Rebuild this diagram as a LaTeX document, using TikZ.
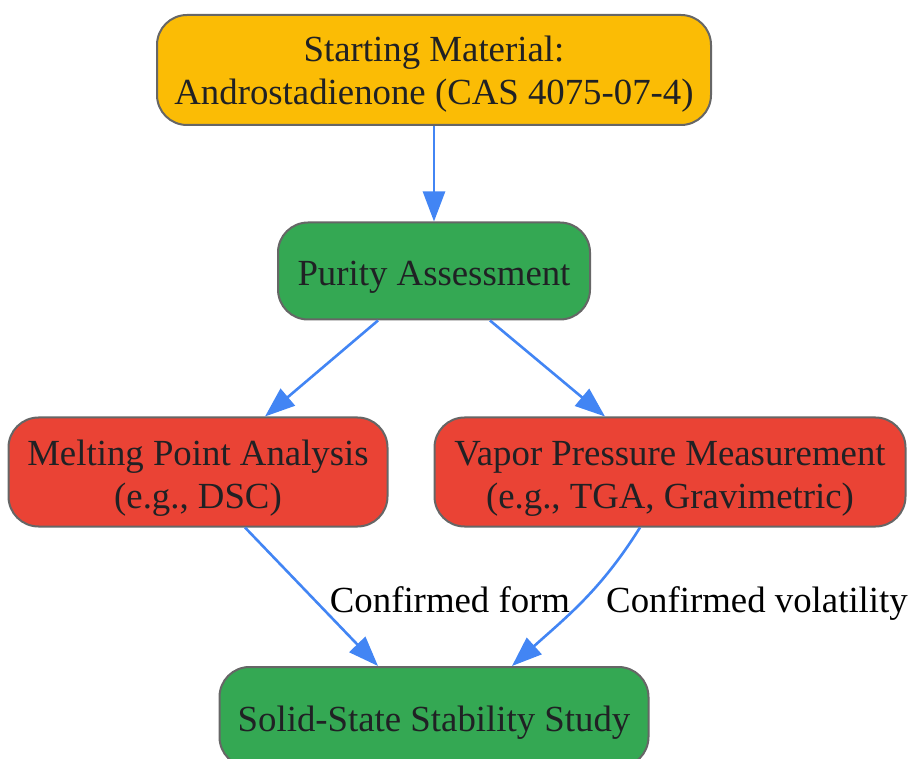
\documentclass[tikz,border=0pt]{standalone}
\usepackage{fontspec}
\setmainfont{Liberation Serif}
\usetikzlibrary{arrows.meta}
\definecolor{gyellow}{HTML}{FBBC05}
\definecolor{ggreen}{HTML}{34A853}
\definecolor{gred}{HTML}{EA4335}
\definecolor{gblue}{HTML}{4285F4}
\definecolor{gborder}{HTML}{666666}
\definecolor{gtext}{HTML}{202124}
\newcommand{\stagestrut}[1]{\rule{0pt}{#1}}
\tikzset{
    stagebox/.style={draw=gborder,line width=1pt,rounded corners=15pt,align=center,
        text=gtext,inner sep=0pt,font=\fontsize{18.4}{21.5}\selectfont},
    flow/.style={draw=gblue,line width=1.3pt,-{Triangle[length=15pt,width=11pt]}},
    flowlabel/.style={font=\fontsize{18.4}{21.5}\selectfont,text=black,
        text height=13pt,text depth=4.5pt,inner sep=0pt}
}
\begin{document}
\begin{tikzpicture}[x=0.5pt,y=-0.5pt]
        \useasboundingbox (0,0) rectangle (911,759);
        %% stages
        \node[stagebox,fill=gyellow,minimum width=277pt,minimum height=55pt] (start) at (434,70)
            {\stagestrut{17pt}Starting Material:\\Androstadienone (CAS 4075-07-4)};
        \node[stagebox,fill=ggreen,minimum width=156pt,minimum height=48.5pt] (purity) at (434,271)
            {\stagestrut{18pt}Purity Assessment};
        \node[stagebox,fill=gred,minimum width=189.5pt,minimum height=54.5pt] (melt) at (198,472)
            {\stagestrut{19pt}Melting Point Analysis\\(e.g., DSC)};
        \node[stagebox,fill=gred,minimum width=235.5pt,minimum height=54.5pt] (vapor) at (670,472)
            {\stagestrut{19pt}Vapor Pressure Measurement\\(e.g., TGA, Gravimetric)};
        \node[stagebox,fill=ggreen,minimum width=214.5pt,minimum height=50pt] (solid) at (434,717)
            {\stagestrut{18pt}Solid-State Stability Study};
        %% connectors
        \draw[flow] (start.south) -- (purity.north);
        \foreach \a/\sa/\b/\sb in {purity/-28pt/melt/33.5pt,purity/28pt/vapor/-32.5pt} {
            \draw[flow] ([xshift=\sa]\a.south) -- ([xshift=\sb]\b.north);
        }
        \draw[flow] ([xshift=23.5pt]melt.south) -- ([xshift=-28pt]solid.north);
        \draw[flow] ([xshift=-15pt]vapor.south) to[out=-122,in=42] ([xshift=39pt]solid.north);
        %% labels
        \node[flowlabel] (formlabel) at (450,604) {Confirmed form};
        \node[flowlabel] (vollabel) at (757,604) {Confirmed volatility};
    \end{tikzpicture}
\end{document}
